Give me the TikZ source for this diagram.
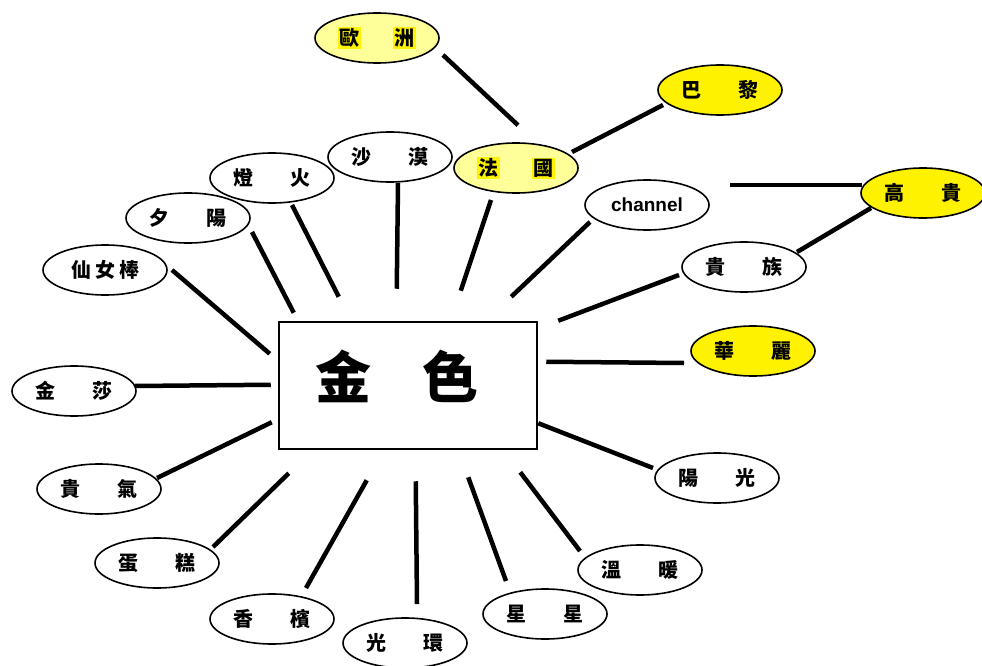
\documentclass[tikz,border=0pt]{standalone}
\usepackage{fontspec}
\newfontfamily\cjk{Noto Sans CJK TC}
\newfontfamily\latinsans{Liberation Sans}
\usetikzlibrary{shapes.geometric}
\definecolor{paleyellow}{HTML}{FFFF99}
\newcommand{\yhl}[1]{{\setlength{\fboxsep}{1.5pt}\colorbox{yellow}{#1}}}
\newcommand{\pair}[2]{#1\hspace{1.9em}#2}

\begin{document}
\begin{tikzpicture}[x=1pt,y=-1pt,
  word node/.style={ellipse,draw,line width=1.6pt,minimum width=124pt,
  minimum height=50pt,inner sep=0pt,font=\cjk\bfseries\fontsize{20}{20}\selectfont},
  hot node/.style={word node,fill=yellow},
  pale node/.style={word node,fill=paleyellow},
  gold box/.style={rectangle,draw,line width=2.5pt,minimum width=258pt,
  minimum height=127pt,inner sep=0pt},
  link/.style={line width=4.5pt}]
  \useasboundingbox (0,0) rectangle (982,666);

  % centre
  \node[gold box] (gold) at (408,385.5) {};
  \node[font=\cjk\bfseries\fontsize{56}{56}\selectfont] (goldtext) at (397,376) {金\hspace{51pt}色};

  % words round the centre
  \node[pale node] (oz) at (377,38) {\yhl{歐}\hspace{1.6em}\yhl{洲}};
  \node[hot node] (bl) at (720,90) {\pair{巴}{黎}};
  \node[pale node] (fr) at (516,168) {\yhl{法}\hspace{1.6em}\yhl{國}};
  \node[word node] (sm) at (390,157) {\pair{沙}{漠}};
  \node[word node] (dh) at (272,178) {\pair{燈}{火}};
  \node[word node] (xy) at (188,218) {\pair{夕}{陽}};
  \node[word node] (xnb) at (105,270) {仙\hspace{4pt}女\hspace{4pt}棒};
  \node[word node] (js) at (74,391) {\pair{金}{莎}};
  \node[word node] (gq) at (99,489) {\pair{貴}{氣}};
  \node[word node] (dg) at (157,563) {\pair{蛋}{糕}};
  \node[word node] (xb) at (272,619) {\pair{香}{檳}};
  \node[word node] (gh) at (405,643) {\pair{光}{環}};
  \node[word node] (xx) at (545,614) {\pair{星}{星}};
  \node[word node] (wn) at (640,570) {\pair{溫}{暖}};
  \node[word node] (yg) at (717,478) {\pair{陽}{光}};
  \node[hot node] (hl) at (753,351) {\pair{華}{麗}};
  \node[word node] (gz) at (744,267) {\pair{貴}{族}};
  \node[hot node] (gg) at (923,193) {\pair{高}{貴}};
  \node[word node,font=\latinsans\bfseries\fontsize{19}{19}\selectfont] (ch) at (647,205) {channel};

  \coordinate (gfree) at (730,185);

  \path[link]
    ([shift={(66,17)}]oz.center) edge ([shift={(2,-17)}]fr.north)
    ([shift={(-57,15)}]bl.center) edge ([shift={(56,-16)}]fr.center)
    ([shift={(-25,32)}]fr.center) edge ([shift={(183,-30)}]gold.north west)
    ([shift={(8,26)}]sm.center) edge ([shift={(119,-32)}]gold.north west)
    ([shift={(20,27)}]dh.center) edge ([shift={(61,-24)}]gold.north west)
    ([shift={(64,14)}]xy.center) edge ([shift={(16,-8)}]gold.north west)
    ([shift={(67,0)}]xnb.center) edge ([shift={(-8,33)}]gold.north west)
    ([shift={(61,-5)}]js.center) edge ([shift={(-7,64)}]gold.north west)
    ([shift={(58,-11)}]gq.center) edge ([shift={(-6,-28)}]gold.south west)
    ([shift={(56,-16)}]dg.center) edge ([shift={(11,23)}]gold.south west)
    ([shift={(34,-31)}]xb.center) edge ([shift={(89,30)}]gold.south west)
    ([shift={(12,-39)}]gh.center) edge ([shift={(138,31)}]gold.south west)
    ([shift={(-39,-33)}]xx.center) edge ([shift={(-70,27)}]gold.south east)
    ([shift={(-60,-19)}]wn.center) edge ([shift={(-18,22)}]gold.south east)
    ([shift={(-64,-10)}]yg.center) edge ([shift={(0,-27)}]gold.south east)
    ([shift={(-69,12)}]hl.center) edge ([shift={(8,41)}]gold.north east)
    ([shift={(-65,8)}]gz.center) edge ([shift={(20,0)}]gold.north east)
    ([shift={(53,-15)}]gz.center) edge ([shift={(-52,15)}]gg.center)
    ([shift={(-57,17)}]ch.center) edge ([shift={(-27,-24)}]gold.north east)
    (gfree) edge ([shift={(-61,-8)}]gg.center);
\end{tikzpicture}
\end{document}
